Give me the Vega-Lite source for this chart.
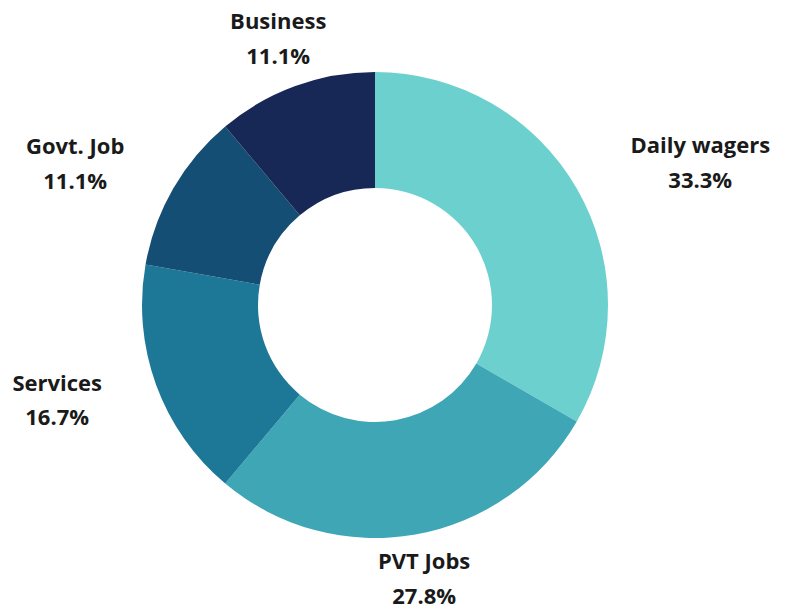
{
  "$schema": "https://vega.github.io/schema/vega-lite/v6.json",
  "width": 750,
  "height": 610,
  "autosize": {"type": "none"},
  "padding": {"left": 0, "right": 36, "top": 0, "bottom": 0},
  "background": "white",
  "config": {"view": {"stroke": null}},
  "data": {
    "values": [
      {"category": "Daily wagers", "count": 6, "label": "Daily wagers\n33.3%", "order": 1},
      {"category": "PVT Jobs", "count": 5, "label": "PVT Jobs\n27.8%", "order": 2},
      {"category": "Services", "count": 3, "label": "Services\n16.7%", "order": 3},
      {"category": "Govt. Job", "count": 2, "label": "Govt. Job\n11.1%", "order": 4},
      {"category": "Business", "count": 2, "label": "Business\n11.1%", "order": 5}
    ]
  },
  "encoding": {
    "theta": {"field": "count", "type": "quantitative", "stack": true},
    "order": {"field": "order", "type": "quantitative"}
  },
  "layer": [
    {
      "mark": {"type": "arc", "innerRadius": 117, "outerRadius": 233},
      "encoding": {
        "color": {
          "field": "category",
          "type": "nominal",
          "scale": {
            "domain": ["Daily wagers", "PVT Jobs", "Services", "Govt. Job", "Business"],
            "range": ["#6CD1CE", "#3FA6B6", "#1D7897", "#144E75", "#182856"]
          },
          "legend": null
        }
      }
    },
    {
      "mark": {"type": "text", "radius": 289, "align": "center", "baseline": "middle", "dx": 75, "dy": -15, "lineBreak": "\n", "lineHeight": 35, "font": "Open Sans", "fontWeight": "bold", "fontSize": 22, "color": "#1a1a1a"},
      "encoding": {
        "text": {"condition": {"test": "datum.category === 'Daily wagers'", "field": "label"}, "value": ""}
      }
    },
    {
      "mark": {"type": "text", "radius": 285, "align": "center", "baseline": "middle", "dx": -53, "dy": -16, "lineBreak": "\n", "lineHeight": 35, "font": "Open Sans", "fontWeight": "bold", "fontSize": 22, "color": "#1a1a1a"},
      "encoding": {
        "text": {"condition": {"test": "datum.category === 'Govt. Job'", "field": "label"}, "value": ""}
      }
    },
    {
      "mark": {"type": "text", "radius": 285, "align": "center", "baseline": "middle", "dx": -50, "dy": -18, "lineBreak": "\n", "lineHeight": 34, "font": "Open Sans", "fontWeight": "bold", "fontSize": 22, "color": "#1a1a1a"},
      "encoding": {
        "text": {"condition": {"test": "datum.category === 'Services'", "field": "label"}, "value": ""}
      }
    },
    {
      "mark": {"type": "text", "radius": 283, "align": "center", "baseline": "middle", "dy": -17, "lineBreak": "\n", "lineHeight": 35, "font": "Open Sans", "fontWeight": "bold", "fontSize": 22, "color": "#1a1a1a"},
      "encoding": {
        "text": {"condition": {"test": "datum.category === 'Business'", "field": "label"}, "value": ""}
      }
    },
    {
      "mark": {"type": "text", "radius": 283, "align": "center", "baseline": "middle", "dy": -22, "lineBreak": "\n", "lineHeight": 35, "font": "Open Sans", "fontWeight": "bold", "fontSize": 22, "color": "#1a1a1a"},
      "encoding": {
        "text": {"condition": {"test": "datum.category === 'PVT Jobs'", "field": "label"}, "value": ""}
      }
    }
  ]
}
